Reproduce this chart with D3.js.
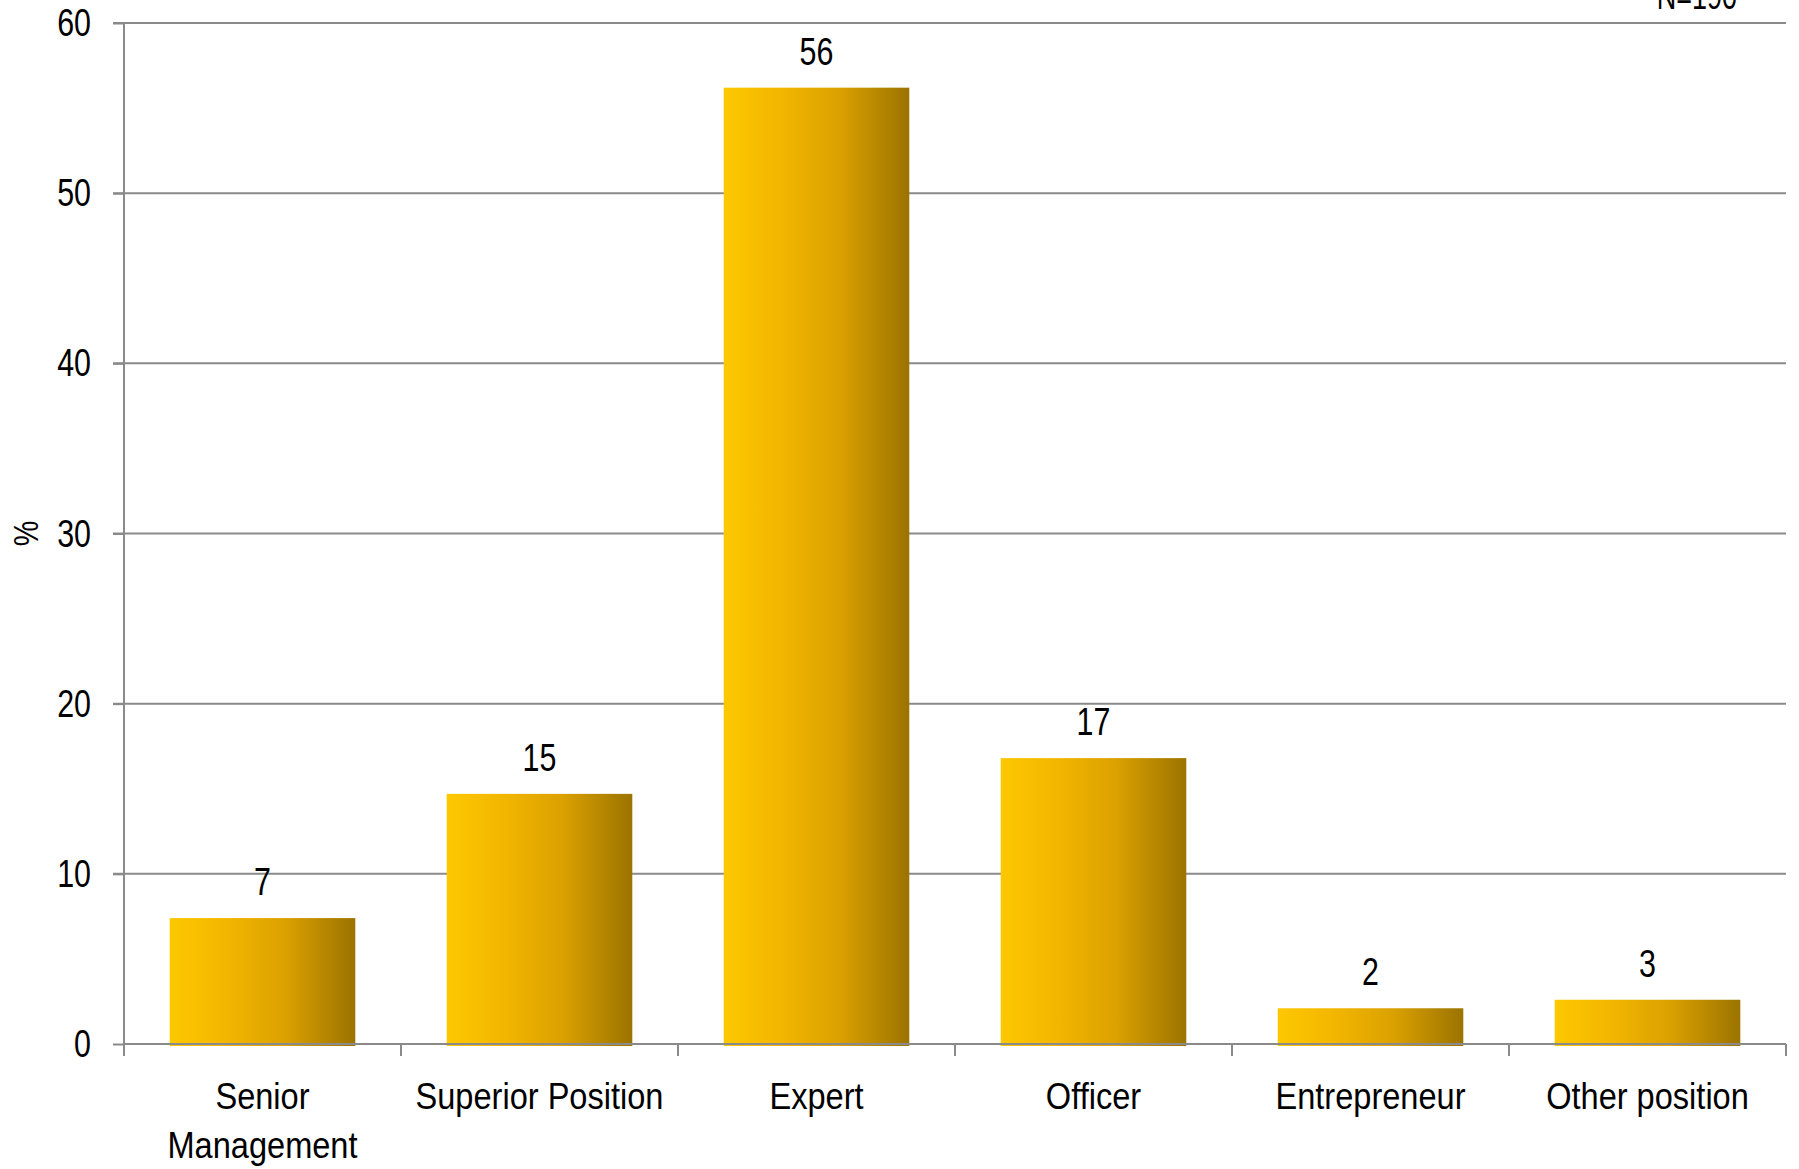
<!DOCTYPE html>
<html>
<head>
<meta charset="utf-8">
<script src="https://cdn.jsdelivr.net/npm/d3@7"></script>
<style>
  html, body { margin: 0; padding: 0; background: #fff; }
  svg { display: block; }
  text { font-family: "Liberation Sans", Arial, sans-serif; fill: #000; }
</style>
</head>
<body>
<svg id="chart" width="1799" height="1169"></svg>
<script>
// ---- data ----
const categories = ["Senior Management", "Superior Position", "Expert", "Officer", "Entrepreneur", "Other position"];
const categoryLabels = [["Senior", "Management"], ["Superior Position"], ["Expert"], ["Officer"], ["Entrepreneur"], ["Other position"]];
const values = [7.4, 14.7, 56.2, 16.8, 2.1, 2.6];
const yTicks = [0, 10, 20, 30, 40, 50, 60];
const yTitle = "%";
const noteText = "N=190";

// ---- layout ----
const W = 1799, H = 1169;
const margin = { top: 23, right: 13, bottom: 125, left: 124 };
const iw = W - margin.left - margin.right;
const ih = H - margin.top - margin.bottom;
const gridColor = "#8a8a8a";
const NARROW = 0.8;
const NARROW_CAT = 0.88;

const svg = d3.select("#chart");
const defs = svg.append("defs");
const grad = defs.append("linearGradient").attr("id", "barGrad")
  .attr("x1", "0%").attr("x2", "100%").attr("y1", "0%").attr("y2", "0%");
[["0%", "#fdc800"], ["30%", "#f3b600"], ["62%", "#dba100"], ["100%", "#9b7300"]]
  .forEach(([o, c]) => grad.append("stop").attr("offset", o).attr("stop-color", c));

const g = svg.append("g").attr("transform", `translate(${margin.left},${margin.top})`);

const x = d3.scaleBand().domain(categories).range([0, iw]).paddingInner(0.33).paddingOuter(0.165);
const y = d3.scaleLinear().domain([0, 60]).range([ih, 0]);

function place(sel, fx, fy, k) {
  const s = k || NARROW;
  sel.attr("transform", (d, i) => `translate(${fx(d, i)},${fy(d, i)}) scale(${s},1)`);
}

// gridlines
g.append("g").selectAll("line").data(yTicks.filter(d => d > 0)).join("line")
  .attr("x1", -11).attr("x2", iw)
  .attr("y1", d => y(d)).attr("y2", d => y(d))
  .attr("stroke", gridColor).attr("stroke-width", 2);

// bars
g.append("g").selectAll("rect").data(values).join("rect")
  .attr("x", (d, i) => x(categories[i]))
  .attr("width", x.bandwidth())
  .attr("y", d => y(d))
  .attr("height", d => y(0) - y(d) + 2)
  .attr("fill", "url(#barGrad)");

// value labels
const fmt = d3.format(".0f");
g.append("g").selectAll("text").data(values).join("text")
  .attr("text-anchor", "middle")
  .attr("font-size", 38)
  .call(place, (d, i) => x(categories[i]) + x.bandwidth() / 2, d => y(d) - 23)
  .text(d => fmt(d));

// y axis (built from the scale)
const yAxis = g.append("g").call(d3.axisLeft(y).tickValues(yTicks).tickSize(11).tickFormat(""));
yAxis.select(".domain").attr("stroke", gridColor).attr("stroke-width", 2).attr("fill", "none").attr("d", `M0,${ih + 12}V0`);
yAxis.selectAll(".tick line").attr("stroke", gridColor).attr("stroke-width", 2);
g.append("g").selectAll("text").data(yTicks).join("text")
  .attr("text-anchor", "end")
  .attr("font-size", 38)
  .call(place, () => -33, d => y(d) + 13)
  .text(d3.format("d"));

// x axis (ticks at band boundaries)
const xg = g.append("g").attr("transform", `translate(0,${ih})`);
xg.append("line").attr("x1", 0).attr("x2", iw).attr("y1", 0).attr("y2", 0)
  .attr("stroke", gridColor).attr("stroke-width", 2);
const boundaries = categories.map(c => x(c) - (x.step() - x.bandwidth()) / 2).concat([iw]);
xg.selectAll("line.tk").data(boundaries).join("line").attr("class", "tk")
  .attr("x1", d => d).attr("x2", d => d).attr("y1", 0).attr("y2", 12)
  .attr("stroke", gridColor).attr("stroke-width", 2);

// category labels
xg.selectAll("text.cat").data(categoryLabels).join("text").attr("class", "cat")
  .attr("text-anchor", "middle")
  .attr("font-size", 37)
  .call(place, (d, i) => x(categories[i]) + x.bandwidth() / 2, () => 65, NARROW_CAT)
  .each(function (lines) {
    const t = d3.select(this);
    lines.forEach((ln, j) => {
      t.append("tspan").attr("x", 0).attr("y", j * 49).text(ln);
    });
  });

// y title
svg.append("text")
  .attr("transform", `translate(38,${margin.top + ih / 2}) rotate(-90) scale(${NARROW},1)`)
  .attr("text-anchor", "middle")
  .attr("font-size", 36)
  .text(yTitle);

// note
svg.append("text")
  .attr("transform", `translate(1737,9) scale(0.73,1)`)
  .attr("text-anchor", "end")
  .attr("font-size", 37)
  .text(noteText);
</script>
</body>
</html>
